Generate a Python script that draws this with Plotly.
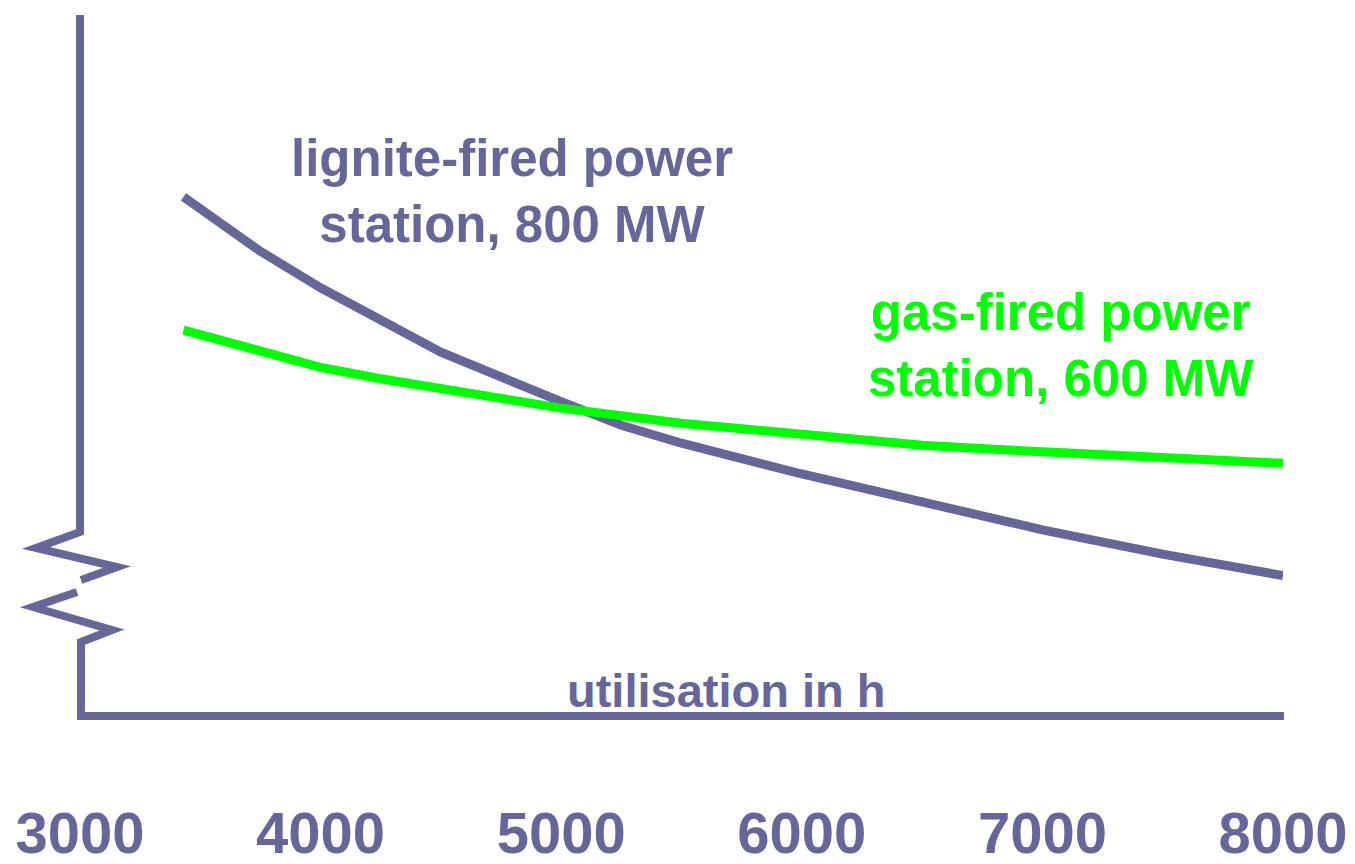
import plotly.graph_objects as go

# utilisation (hours per year) and relative generation cost (arbitrary units, y axis unlabelled)
lignite_hours = [3430, 3750, 4000, 4500, 5000, 5250, 5500, 6000, 6500, 7000, 7500, 8000]
lignite_cost = [7.25, 6.49, 5.98, 5.08, 4.39, 4.06, 3.81, 3.38, 2.99, 2.60, 2.26, 1.96]

gas_hours = [3430, 4000, 4250, 4500, 5000, 5500, 6000, 6500, 7000, 7500, 8000]
gas_cost = [5.39, 4.87, 4.71, 4.57, 4.30, 4.09, 3.92, 3.78, 3.69, 3.60, 3.53]

tick_vals = [3000, 4000, 5000, 6000, 7000, 8000]
tick_text = ["3000", "4000", "5000", "6000", "7000", "8000"]

PURPLE = "#666699"
GREEN = "#00FF00"
FONT = "Liberation Sans, Arial, sans-serif"

# the page body adds an 8px offset, so the figure is a bit smaller than the window
OFF = 8
W, H = 1347, 856
L, R, T, B = 72, 72, 0, 148
plot_w, plot_h = W - L - R, H - T - B

fig = go.Figure()

fig.add_trace(go.Scatter(
    x=lignite_hours, y=lignite_cost, mode="lines",
    line=dict(color=PURPLE, width=9), name="lignite",
))
fig.add_trace(go.Scatter(
    x=gas_hours, y=gas_cost, mode="lines",
    line=dict(color=GREEN, width=9), name="gas",
))


def to_paper(x, y):
    # page pixel position -> paper coordinates
    return (x - OFF - L) / plot_w, (H - B - (y - OFF)) / plot_h


def path(points):
    parts = []
    for i, (x, y) in enumerate(points):
        u, v = to_paper(x, y)
        parts.append(("M" if i == 0 else "L") + f"{u:.5f},{v:.5f}")
    return " ".join(parts)


# axes drawn by hand: vertical axis has a break (zigzag)
axis_upper = [(80, 15), (80, 532), (36, 548), (117, 567), (81, 580)]
axis_lower = [(77, 592), (33, 607), (112, 630), (81, 642), (81, 716), (1284, 716)]
for pts in (axis_upper, axis_lower):
    fig.add_shape(type="path", path=path(pts), xref="paper", yref="paper",
                  line=dict(color=PURPLE, width=8))

fig.add_annotation(x=4795, y=7.32, text="lignite-fired power<br>station, 800 MW",
                   showarrow=False, font=dict(family=FONT, size=51, color=PURPLE, weight="bold"),
                   align="center")
fig.add_annotation(x=7077, y=5.18, text="gas-fired power<br>station, 600 MW",
                   showarrow=False, font=dict(family=FONT, size=51, color=GREEN, weight="bold"),
                   align="center")
fig.add_annotation(x=5689, y=0.36, text="utilisation in h",
                   showarrow=False, font=dict(family=FONT, size=47, color=PURPLE, weight="bold"))

fig.update_layout(
    width=W, height=H,
    margin=dict(l=L, r=R, t=T, b=B),
    paper_bgcolor="white", plot_bgcolor="white",
    showlegend=False,
    xaxis=dict(
        range=[3000, 8000], showgrid=False, zeroline=False, showline=False,
        tickvals=tick_vals, ticktext=tick_text, ticks="",
        tickfont=dict(family=FONT, size=58, color=PURPLE, weight="bold"),
        ticklabelstandoff=78, ticklabeloverflow="allow", automargin=False,
    ),
    yaxis=dict(range=[0, 708 / 71.6], visible=False, automargin=False),
)

fig.write_html("out.html")
